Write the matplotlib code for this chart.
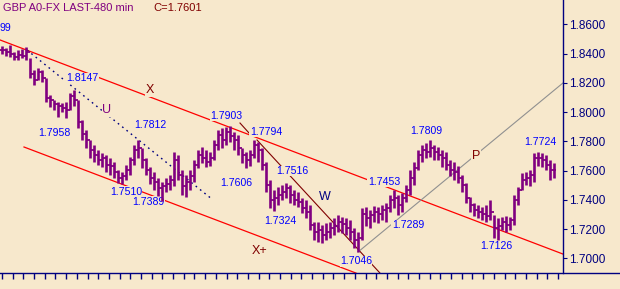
import numpy as np
import matplotlib
matplotlib.use('Agg')
import matplotlib.pyplot as plt
from matplotlib.ticker import FormatStrFormatter

# ---- price bars (GBP 480 min) ----
highs = [1.8452, 1.8438, 1.8458, 1.8410, 1.8424, 1.8431, 1.8445, 1.8369, 1.8287, 1.8301,
         1.8287, 1.8233, 1.8116, 1.8082, 1.8069, 1.8062, 1.8069, 1.8130, 1.8151, 1.8082,
         1.7946, 1.7877, 1.7809, 1.7775, 1.7740, 1.7720, 1.7706, 1.7686, 1.7658, 1.7604,
         1.7590, 1.7638, 1.7693, 1.7775, 1.7809, 1.7754, 1.7686, 1.7624, 1.7590, 1.7549,
         1.7522, 1.7549, 1.7570, 1.7727, 1.7706, 1.7604, 1.7570, 1.7604, 1.7672, 1.7740,
         1.7761, 1.7740, 1.7727, 1.7809, 1.7877, 1.7891, 1.7898, 1.7905, 1.7864, 1.7843,
         1.7754, 1.7727, 1.7740, 1.7809, 1.7795, 1.7754, 1.7658, 1.7535, 1.7467, 1.7487,
         1.7501, 1.7515, 1.7501, 1.7467, 1.7453, 1.7412, 1.7399, 1.7364, 1.7248, 1.7248,
         1.7227, 1.7241, 1.7248, 1.7275, 1.7296, 1.7282, 1.7275, 1.7262, 1.7207, 1.7180,
         1.7344, 1.7351, 1.7330, 1.7357, 1.7351, 1.7364, 1.7378, 1.7433, 1.7467, 1.7433,
         1.7446, 1.7501, 1.7604, 1.7658, 1.7740, 1.7775, 1.7788, 1.7809, 1.7775, 1.7761,
         1.7740, 1.7727, 1.7672, 1.7658, 1.7631, 1.7570, 1.7515, 1.7419, 1.7378, 1.7364,
         1.7351, 1.7364, 1.7399, 1.7296, 1.7275, 1.7282, 1.7289, 1.7282, 1.7433, 1.7487,
         1.7583, 1.7590, 1.7604, 1.7720, 1.7727, 1.7720, 1.7706, 1.7672, 1.7652]
lows = [1.8397, 1.8383, 1.8376, 1.8356, 1.8356, 1.8369, 1.8356, 1.8233, 1.8185, 1.8219,
        1.8205, 1.8069, 1.8034, 1.8014, 1.7966, 1.8000, 1.7959, 1.8014, 1.8041, 1.7891,
        1.7809, 1.7754, 1.7686, 1.7658, 1.7638, 1.7624, 1.7590, 1.7570, 1.7549, 1.7515,
        1.7508, 1.7535, 1.7570, 1.7638, 1.7686, 1.7617, 1.7570, 1.7508, 1.7467, 1.7426,
        1.7392, 1.7453, 1.7467, 1.7494, 1.7535, 1.7433, 1.7419, 1.7467, 1.7522, 1.7617,
        1.7652, 1.7624, 1.7631, 1.7672, 1.7740, 1.7754, 1.7775, 1.7795, 1.7740, 1.7706,
        1.7652, 1.7617, 1.7631, 1.7686, 1.7658, 1.7604, 1.7453, 1.7344, 1.7323, 1.7364,
        1.7399, 1.7412, 1.7378, 1.7364, 1.7351, 1.7310, 1.7275, 1.7193, 1.7125, 1.7111,
        1.7104, 1.7125, 1.7139, 1.7159, 1.7180, 1.7173, 1.7159, 1.7125, 1.7070, 1.7043,
        1.7125, 1.7221, 1.7207, 1.7248, 1.7241, 1.7262, 1.7248, 1.7316, 1.7344, 1.7296,
        1.7316, 1.7385, 1.7433, 1.7501, 1.7604, 1.7658, 1.7686, 1.7693, 1.7672, 1.7672,
        1.7624, 1.7604, 1.7563, 1.7535, 1.7515, 1.7453, 1.7378, 1.7316, 1.7289, 1.7275,
        1.7262, 1.7248, 1.7262, 1.7139, 1.7125, 1.7193, 1.7180, 1.7193, 1.7227, 1.7364,
        1.7467, 1.7501, 1.7494, 1.7522, 1.7631, 1.7624, 1.7604, 1.7535, 1.7549]
closes = [1.8424, 1.8410, 1.8397, 1.8376, 1.8390, 1.8383, 1.8410, 1.8260, 1.8219, 1.8274,
          1.8233, 1.8096, 1.8082, 1.8055, 1.8041, 1.8028, 1.8014, 1.8110, 1.8082, 1.7932,
          1.7850, 1.7809, 1.7740, 1.7706, 1.7672, 1.7686, 1.7638, 1.7631, 1.7590, 1.7549,
          1.7563, 1.7604, 1.7672, 1.7740, 1.7754, 1.7672, 1.7604, 1.7549, 1.7522, 1.7481,
          1.7494, 1.7508, 1.7535, 1.7672, 1.7570, 1.7494, 1.7522, 1.7563, 1.7638, 1.7706,
          1.7686, 1.7658, 1.7686, 1.7775, 1.7843, 1.7809, 1.7864, 1.7836, 1.7809, 1.7754,
          1.7706, 1.7672, 1.7706, 1.7775, 1.7740, 1.7638, 1.7501, 1.7399, 1.7412, 1.7433,
          1.7453, 1.7481, 1.7433, 1.7399, 1.7385, 1.7344, 1.7316, 1.7227, 1.7180, 1.7193,
          1.7159, 1.7180, 1.7207, 1.7221, 1.7248, 1.7234, 1.7207, 1.7180, 1.7125, 1.7139,
          1.7303, 1.7275, 1.7296, 1.7316, 1.7303, 1.7330, 1.7344, 1.7399, 1.7412, 1.7364,
          1.7412, 1.7467, 1.7549, 1.7617, 1.7706, 1.7740, 1.7727, 1.7754, 1.7727, 1.7706,
          1.7686, 1.7638, 1.7604, 1.7590, 1.7549, 1.7501, 1.7412, 1.7364, 1.7330, 1.7316,
          1.7303, 1.7289, 1.7316, 1.7207, 1.7221, 1.7248, 1.7227, 1.7262, 1.7399, 1.7467,
          1.7535, 1.7549, 1.7570, 1.7686, 1.7686, 1.7672, 1.7638, 1.7604, 1.7601]

price_ticks = [1.70, 1.72, 1.74, 1.76, 1.78, 1.80, 1.82, 1.84, 1.86]

# trend lines: (bar, price) endpoints
channel_upper = [(-0.5, 1.8493), (140.25, 1.7029)]
channel_lower = [(5.5, 1.7761), (88.5, 1.6899)]
u_line = [(6.25, 1.8424), (52.75, 1.7399)]
w_line = [(63.75, 1.7809), (94.5, 1.6899)]
w_stub = [(59.5, 1.7925), (61.75, 1.7857)]
p_line = [(89.0, 1.7043), (140.25, 1.8199)]

# value labels: (text, bar, price)
value_labels = [
    ("1.8147", 20.0, 1.8233), ("1.7958", 13.0, 1.7857), ("1.7812", 37.0, 1.7911),
    ("1.7510", 31.0, 1.7455), ("1.7389", 36.5, 1.7388), ("1.7903", 56.0, 1.7973),
    ("1.7794", 66.0, 1.7864), ("1.7606", 58.5, 1.7515), ("1.7516", 72.5, 1.7597),
    ("1.7324", 69.5, 1.7255), ("1.7453", 95.5, 1.7522), ("1.7046", 88.5, 1.6981),
    ("1.7289", 101.5, 1.7228), ("1.7809", 106.0, 1.7870), ("1.7126", 123.5, 1.7084),
    ("1.7724", 134.5, 1.7795),
]
edge_label = ("99", -0.5, 1.8575)
wave_labels = [
    ("U", 26.25, 1.8014, '#800080'), ("X", 37.0, 1.8151, '#800000'),
    ("W", 80.75, 1.7419, '#000080'), ("X+", 64.5, 1.7050, '#800000'),
    ("P", 118.5, 1.7700, '#800000'),
]

BG = '#F7E8CC'
PURPLE = '#800080'
NAVY = '#000080'
FONT = 'Liberation Sans'

fig = plt.figure(figsize=(6.2, 2.89), dpi=100, facecolor=BG)
ax = fig.add_axes([0, 16 / 289, 1, 273 / 289])
ax.set_facecolor(BG)
ax.set_xlim(-0.5, 154.5)
ax.set_ylim(1.68995, 1.87662)

for s in ('top', 'left'):
    ax.spines[s].set_visible(False)
ax.spines['right'].set_position(('data', 140.25))
ax.spines['right'].set_color(NAVY)
ax.spines['right'].set_linewidth(1.0)
ax.spines['bottom'].set_color(NAVY)
ax.spines['bottom'].set_linewidth(1.0)

ax.yaxis.tick_right()
ax.set_yticks(price_ticks)
ax.yaxis.set_major_formatter(FormatStrFormatter('%.4f'))
ax.tick_params(axis='y', direction='out', length=3, width=0.8, colors=NAVY,
               labelsize=8.5, pad=1.5)
for lab in ax.get_yticklabels():
    lab.set_family(FONT)
ax.set_xticks(np.linspace(0, 139, 53))
ax.tick_params(axis='x', direction='out', length=4.3, width=1.0, color=NAVY,
               labelbottom=False)

def seg(pts, **kw):
    (x0, y0), (x1, y1) = pts
    ax.plot([x0, x1], [y0, y1], zorder=1, **kw)

seg(channel_upper, color='#FF0000', lw=0.9)
seg(channel_lower, color='#FF0000', lw=0.9)
seg(u_line, color=NAVY, lw=1.0, linestyle=(0, (1.2, 2.8)))
seg(w_line, color='#800000', lw=0.8)
seg(w_stub, color='#800000', lw=0.8)
seg(p_line, color='#909090', lw=0.8)

for txt, b, p in value_labels:
    ax.text(b, p, txt, ha='center', va='center', color='#0000FF', fontsize=7.6,
            family=FONT, zorder=2,
            bbox=dict(facecolor=BG, edgecolor='none', pad=0.3))
ax.text(edge_label[1], edge_label[2], edge_label[0], ha='left', va='center',
        color='#0000FF', fontsize=7.6, family=FONT, zorder=2)
for txt, b, p, c in wave_labels:
    ax.text(b, p, txt, ha='center', va='center', color=c, fontsize=9,
            family=FONT, zorder=2,
            bbox=dict(facecolor=BG, edgecolor='none', pad=0.6))

# price bars
idx = np.arange(len(closes))
opens = [closes[0]] + closes[:-1]
ax.vlines(idx, lows, highs, color=PURPLE, lw=1.9, zorder=3)
ax.hlines(opens, idx - 0.55, idx, color=PURPLE, lw=1.3, zorder=3)
ax.hlines(closes, idx, idx + 0.55, color=PURPLE, lw=1.3, zorder=3)

fig.text(3 / 620, 1 - 8 / 289, "GBP A0-FX LAST-480 min", color=PURPLE,
         fontsize=8, family=FONT, va='center', ha='left')
fig.text(153 / 620, 1 - 8 / 289, "C=1.7601", color='#800000',
         fontsize=8, family=FONT, va='center', ha='left')

fig.savefig('out.png', dpi=100, facecolor=BG)
